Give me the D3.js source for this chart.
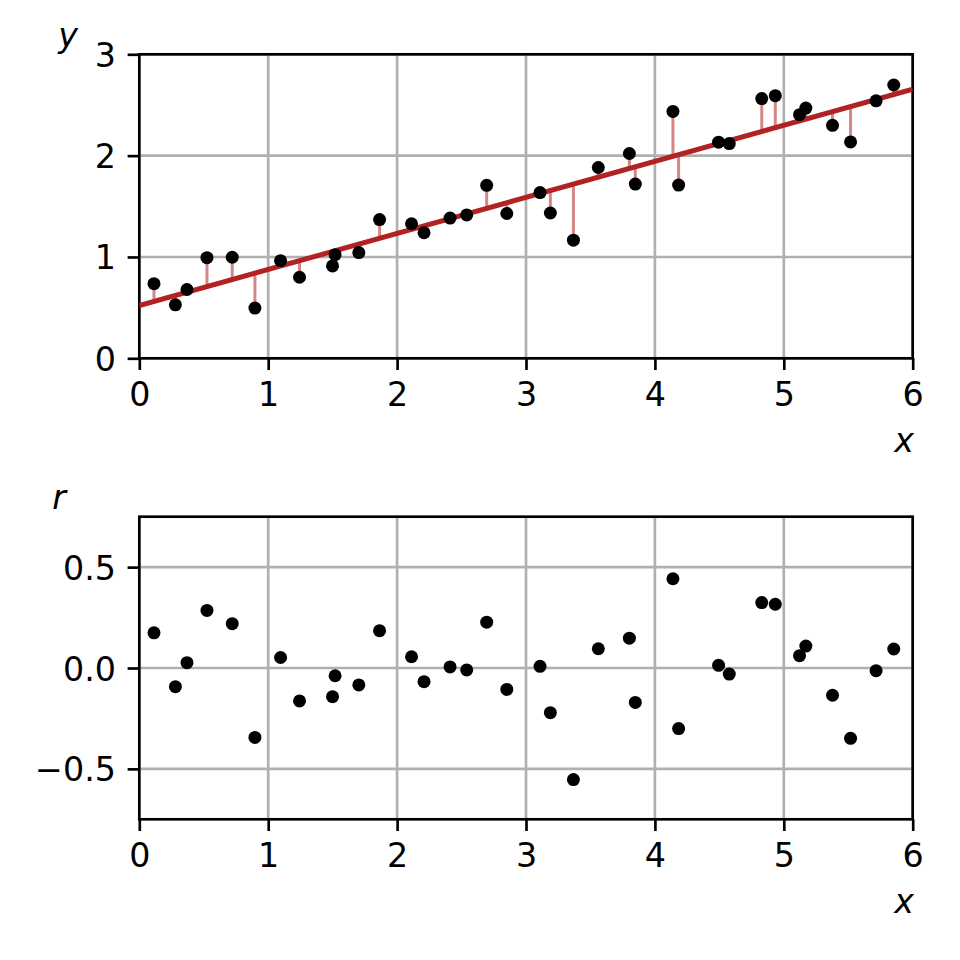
<!DOCTYPE html>
<html>
<head>
<meta charset="utf-8">
<script src="https://cdn.jsdelivr.net/npm/d3@7"></script>
<style>
  body { margin: 0; background: #fff; }
  svg text { font-family: "DejaVu Sans", sans-serif; }
</style>
</head>
<body>
<div id="chart"></div>
<script>
// data
const xs = [0.114, 0.280, 0.370, 0.525, 0.721, 0.897, 1.096, 1.243, 1.499, 1.519, 1.703, 1.864,
            2.112, 2.209, 2.411, 2.540, 2.695, 2.851, 3.109, 3.189, 3.368, 3.561, 3.802, 3.848,
            4.140, 4.184, 4.494, 4.577, 4.829, 4.934, 5.122, 5.171, 5.378, 5.518, 5.716, 5.853];
const ys = [0.736, 0.528, 0.679, 0.993, 0.997, 0.496, 0.963, 0.800, 0.912, 1.023, 1.043, 1.369,
            1.328, 1.239, 1.384, 1.415, 1.707, 1.429, 1.635, 1.434, 1.166, 1.883, 2.021, 1.719,
            2.436, 1.709, 2.133, 2.119, 2.563, 2.592, 2.404, 2.469, 2.299, 2.135, 2.541, 2.697];
const intercept = 0.521, slope = 0.3557;
const xTicks = [0, 1, 2, 3, 4, 5, 6];
const yTicks = [0, 1, 2, 3];
const rTicks = [-0.5, 0, 0.5];

const fit = x => intercept + slope * x;
const pts = xs.map((x, i) => ({ x: x, y: ys[i], r: ys[i] - fit(x) }));

const W = 960, H = 960;
const left = 139.3, right = 912.7;
const fs = 33.3, lw = 2.67, tick = 11.7;

const svg = d3.select('#chart').append('svg')
    .attr('width', W).attr('height', H);

function panel(top, bottom, yDomain, ticks, fmt, ylab, ylabX, ylabY) {
    const x = d3.scaleLinear().domain([0, 6]).range([left, right]);
    const y = d3.scaleLinear().domain(yDomain).range([bottom, top]);
    const g = svg.append('g');

    // grid
    g.selectAll('line.gx').data(xTicks).enter().append('line')
        .attr('x1', d => x(d)).attr('x2', d => x(d))
        .attr('y1', top).attr('y2', bottom)
        .attr('stroke', '#b0b0b0').attr('stroke-width', lw);
    g.selectAll('line.gy').data(ticks).enter().append('line')
        .attr('x1', left).attr('x2', right)
        .attr('y1', d => y(d)).attr('y2', d => y(d))
        .attr('stroke', '#b0b0b0').attr('stroke-width', lw);

    // axes
    const ax = g.append('g').attr('transform', `translate(0,${bottom})`)
        .call(d3.axisBottom(x).tickValues(xTicks).tickFormat(d3.format('d'))
            .tickSize(tick).tickSizeOuter(0).tickPadding(11.7));
    const ay = g.append('g').attr('transform', `translate(${left},0)`)
        .call(d3.axisLeft(y).tickValues(ticks).tickFormat(fmt)
            .tickSize(tick).tickSizeOuter(0).tickPadding(11.7));
    [ax, ay].forEach(a => {
        a.select('.domain').remove();
        a.selectAll('line').attr('stroke', '#000').attr('stroke-width', lw);
        a.selectAll('text').attr('fill', '#000').attr('font-size', fs)
            .attr('font-family', '"DejaVu Sans", sans-serif');
    });
    ax.selectAll('text').attr('dy', '0.72em');
    ay.selectAll('text').attr('dy', '0.36em');

    // frame
    g.append('rect').attr('x', left).attr('y', top)
        .attr('width', right - left).attr('height', bottom - top)
        .attr('fill', 'none').attr('stroke', '#000').attr('stroke-width', lw);

    // axis labels
    g.append('text').attr('x', 914).attr('y', bottom + 94)
        .attr('text-anchor', 'end').attr('font-size', fs).attr('font-style', 'italic')
        .text('x');
    g.append('text').attr('x', ylabX).attr('y', ylabY)
        .attr('text-anchor', 'middle').attr('font-size', fs).attr('font-style', 'italic')
        .text(ylab);

    const clip = 'clip' + Math.round(top);
    svg.append('clipPath').attr('id', clip).append('rect')
        .attr('x', left).attr('y', top).attr('width', right - left).attr('height', bottom - top);
    const plot = g.append('g').attr('clip-path', `url(#${clip})`);
    return { x, y, g, plot };
}

// top panel: data with fitted line
const p1 = panel(54.3, 358.3, [0, 3], yTicks, d3.format('d'), 'y', 68, 47);
p1.plot.selectAll('line.stem').data(pts).enter().append('line')
    .attr('x1', d => p1.x(d.x)).attr('x2', d => p1.x(d.x))
    .attr('y1', d => p1.y(fit(d.x))).attr('y2', d => p1.y(d.y))
    .attr('stroke', '#b22222').attr('stroke-opacity', 0.55).attr('stroke-width', 3);
p1.plot.append('line')
    .attr('x1', p1.x(0)).attr('y1', p1.y(fit(0)))
    .attr('x2', p1.x(6)).attr('y2', p1.y(fit(6)))
    .attr('stroke', '#b22222').attr('stroke-width', 5);
p1.g.selectAll('circle').data(pts).enter().append('circle')
    .attr('cx', d => p1.x(d.x)).attr('cy', d => p1.y(d.y)).attr('r', 6.5)
    .attr('fill', '#000');

// bottom panel: residuals
const rfmt = d => (d < 0 ? '\u2212' : '') + d3.format('.1f')(Math.abs(d));
const p2 = panel(516.7, 819.3, [-0.75, 0.75], rTicks, rfmt, 'r', 59, 509);
p2.g.selectAll('circle').data(pts).enter().append('circle')
    .attr('cx', d => p2.x(d.x)).attr('cy', d => p2.y(d.r)).attr('r', 6.5)
    .attr('fill', '#000');
</script>
</body>
</html>
